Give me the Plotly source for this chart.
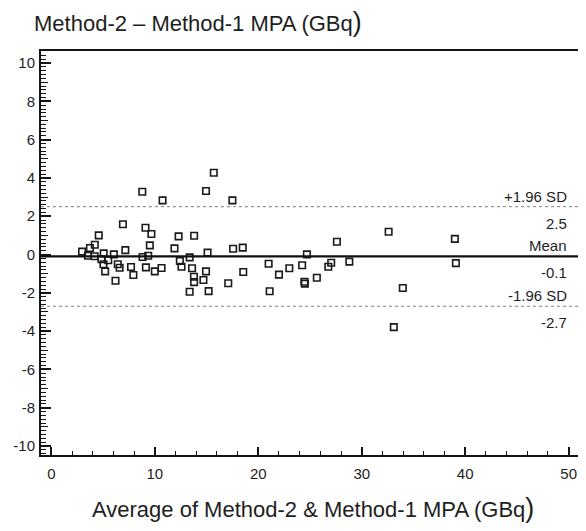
import plotly.graph_objects as go

# Average of Method-2 & Method-1 MPA (GBq)
avg_mpa = [8.79, 10.75, 15.7, 14.95, 17.5, 6.92, 4.58, 9.1, 9.67, 12.3,
           13.8, 4.2, 3.73, 2.97, 5.06, 6.04, 7.15, 9.52, 11.9, 15.1,
           17.57, 18.5, 3.54, 4.18, 8.82, 9.36, 13.37, 4.84, 5.5, 5.04,
           6.42, 6.6, 5.2, 7.7, 7.93, 6.2, 9.14, 10.0, 10.65, 12.42,
           12.58, 13.6, 13.78, 13.8, 13.37, 14.7, 14.95, 15.2, 17.1, 18.55,
           21.0, 21.1, 22.0, 23.0, 24.24, 24.7, 24.46, 24.5, 25.66, 26.77,
           27.05, 27.6, 28.8, 32.6, 33.97, 33.1, 39.0, 39.1]
# Method-2 - Method-1 MPA (GBq)
diff_mpa = [3.28, 2.83, 4.27, 3.32, 2.83, 1.58, 1.0, 1.4, 1.07, 0.95,
            0.98, 0.51, 0.34, 0.15, 0.06, 0.01, 0.23, 0.48, 0.32, 0.1,
            0.30, 0.36, -0.06, -0.09, -0.13, -0.06, -0.15, -0.25, -0.3, -0.51,
            -0.51, -0.69, -0.88, -0.65, -1.07, -1.37, -0.67, -0.88, -0.7, -0.34,
            -0.64, -0.72, -1.16, -1.44, -1.94, -1.33, -0.88, -1.91, -1.5, -0.91,
            -0.48, -1.92, -1.05, -0.72, -0.56, 0.01, -1.42, -1.52, -1.21, -0.64,
            -0.43, 0.67, -0.37, 1.19, -1.75, -3.79, 0.82, -0.45]

mean_diff = -0.1
upper_loa = 2.5
lower_loa = -2.7
ref_names = ["+1.96 SD", "Mean", "-1.96 SD"]
ref_values = [upper_loa, mean_diff, lower_loa]
ref_labels = ["2.5", "-0.1", "-2.7"]

x_ticks = [0, 10, 20, 30, 40, 50]
y_ticks = [-10, -8, -6, -4, -2, 0, 2, 4, 6, 8, 10]

FONT = "Liberation Sans, Arial, sans-serif"
INK = "#1e1e1e"
AX = "#151515"

fig = go.Figure()
fig.add_trace(go.Scatter(
    x=avg_mpa, y=diff_mpa, mode="markers",
    marker=dict(symbol="square-open", size=6.5, color="#1a1a1a",
                line=dict(width=1.6, color="#1a1a1a")),
    showlegend=False, hoverinfo="x+y"))

# limits of agreement and mean
for name, val, lab in zip(ref_names, ref_values, ref_labels):
    if name == "Mean":
        fig.add_hline(y=val, line=dict(color="#111111", width=2.2))
    else:
        fig.add_hline(y=val, line=dict(color="#808080", width=1, dash="dot"))
    fig.add_annotation(xref="paper", yref="y", x=0.981, y=val, text=name,
                       showarrow=False, xanchor="right", yanchor="bottom",
                       yshift=0, font=dict(family=FONT, size=15, color=INK))
    fig.add_annotation(xref="paper", yref="y", x=0.981, y=val, text=lab,
                       showarrow=False, xanchor="right", yanchor="top",
                       yshift=-6, font=dict(family=FONT, size=15, color=INK))

# axis titles (horizontal y title at top-left)
fig.add_annotation(xref="paper", yref="paper", x=-0.016, y=1.0, yshift=12,
                   text='Method-2 – Method-1 MPA (GBq<span style="font-size:27px">)</span>',
                   showarrow=False, xanchor="left", yanchor="bottom",
                   font=dict(family=FONT, size=22, color=INK))
fig.add_annotation(xref="paper", yref="paper", x=0.505, y=0, yshift=-36,
                   text='Average of Method-2 & Method-1 MPA (GBq<span style="font-size:27px">)</span>',
                   showarrow=False, xanchor="center", yanchor="top",
                   font=dict(family=FONT, size=22, color=INK))

# medium ticks on y every 1 via overlay axis
fig.add_trace(go.Scatter(x=[None], y=[None], yaxis="y2", showlegend=False,
                         hoverinfo="skip"))

# the page body has an 8px default margin; the figure is sized to fill the rest
fig.update_layout(
    width=578, height=523,
    margin=dict(l=25, r=5, t=43, b=76),
    paper_bgcolor="white", plot_bgcolor="white",
    font=dict(family=FONT, size=15, color=INK),
    xaxis=dict(range=[-1, 51], tickvals=x_ticks, ticktext=[str(v) for v in x_ticks],
               ticks="inside", ticklen=8, tickwidth=1.5, tickcolor=AX,
               showline=True, linewidth=2, linecolor=AX, mirror=True,
               showgrid=False, zeroline=False,
               minor=dict(dtick=2, ticks="inside", ticklen=4, tickwidth=1.2,
                          tickcolor=AX, showgrid=False),
               tickfont=dict(family=FONT, size=15, color=INK), ticklabelstandoff=4),
    yaxis=dict(range=[-10.47, 10.63], tickvals=y_ticks, ticktext=[str(v) for v in y_ticks],
               ticks="inside", ticklen=10, tickwidth=1.5, tickcolor=AX,
               showline=True, linewidth=2, linecolor=AX, mirror=True,
               showgrid=False, zeroline=False,
               minor=dict(dtick=0.2, tick0=0, ticks="inside", ticklen=4.5, tickwidth=1.1,
                          tickcolor=AX, showgrid=False),
               tickfont=dict(family=FONT, size=15, color=INK), ticklabelstandoff=1),
    yaxis2=dict(range=[-10.47, 10.63], overlaying="y", side="left",
                tickmode="linear", tick0=0, dtick=1, ticks="inside", ticklen=7,
                tickwidth=1.2, tickcolor=AX, showticklabels=False,
                showline=False, showgrid=False, zeroline=False),
)

fig.write_html("out.html")
